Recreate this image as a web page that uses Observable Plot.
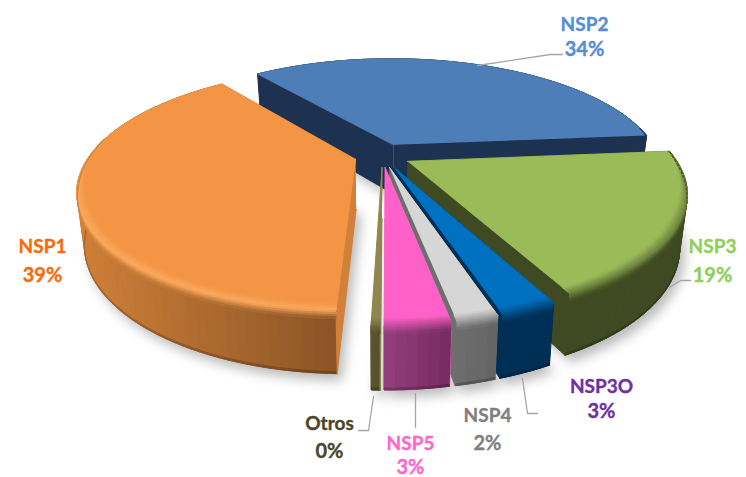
<!DOCTYPE html>
<html><head><meta charset="utf-8">
<style>html,body{margin:0;padding:0;background:#fff}svg{display:block}</style>
<script src="https://cdn.jsdelivr.net/npm/d3@7"></script>
<script src="https://cdn.jsdelivr.net/npm/@observablehq/plot@0.6"></script>
</head><body><div id="chart"></div>
<script>
const names   = ["NSP1","NSP2","NSP3","NSP3O","NSP4","NSP5","Otros"];
const percent = [39,34,19,3,2,3,0];
const shares  = [39,34.1,19.05,2.6,1.9,2.95,0.4];

const topColors  = ["#f39545","#4d7eb8","#9bbb59","#0070c0","#d6d6d6","#ff61c9","#8f8750"];
const rimColors  = ["#fbaa5e",null,null,null,null,null,null];
const sideFrom   = ["#d08038","#1d3150","#3f4a22","#002f55","#6e6e6e","#93407e","#5b552f"];
const sideTo     = ["#8a5426","#1d3150","#3f4a22","#002f55","#646464","#762a60","#55502c"];
const faceColors = ["#d08038","#1d3150","#3f4a22","#002f55","#6e6e6e","#ff61c9","#8f8750"];
const textColors = ["#fa6a0a","#558ed5","#8ed05a","#7030a0","#7f7f7f","#ff66cc","#494529"];
const paintOrder = ["NSP2","NSP1","NSP3","NSP3O","NSP4","NSP5","Otros"];

// camera of the 3-D pie
const cx=382, cy=155, R=266, Rk=112, P=0.246, H=50, shrink=0.025, explode=0.106;
const startAngle = 181.7*Math.PI/180;

const project=(u,v,t=0)=>{const s=1/(1-P*v),b=1-shrink*t;return {x:cx+R*u*s*b,y:cy+Rk*v*s*b+H*t*s};};
const arcs=d3.pie().sort(null).startAngle(startAngle).endAngle(startAngle+2*Math.PI)(shares);

let id=0; const rows=[], shadow=[];
const poly=(pts,c,store=rows)=>{id++;for(const p of pts)store.push({id,x:p.x,y:p.y,c});};
const clamp=x=>Math.max(0,Math.min(1,x));

for(const name of paintOrder){
  const i=names.indexOf(name), a=arcs[i];
  const mid=(a.startAngle+a.endAngle)/2, ox=explode*Math.sin(mid), oy=-explode*Math.cos(mid);
  const n=Math.max(4,Math.ceil((a.endAngle-a.startAngle)*30));
  const angs=d3.range(n+1).map(k=>a.startAngle+(a.endAngle-a.startAngle)*k/n);
  const P3=(ang,r,t)=>project(ox+r*Math.sin(ang),oy-r*Math.cos(ang),t);
  const apex=t=>project(ox,oy,t);

  // ground shadow
  poly([apex(1),...angs.map(g=>P3(g,1,1))].map(p=>({x:p.x+5,y:p.y+7})),"#8c8c8c",shadow);

  // which cut faces look towards the camera
  const camU=-ox, camV=1/P-oy;
  const face=g=>poly([apex(0),P3(g,1,0),P3(g,1,1),apex(1)],faceColors[i]);
  const startSeen=-(Math.cos(a.startAngle)*camU+Math.sin(a.startAngle)*camV)>0;
  const endSeen=(Math.cos(a.endAngle)*camU+Math.sin(a.endAngle)*camV)>0;
  if(!startSeen) face(a.startAngle);
  if(!endSeen) face(a.endAngle);

  // outer wall, shaded column by column
  const xs=angs.map(g=>P3(g,1,.5).x), x0=d3.min(xs), x1=d3.max(xs);
  const shade=x=>d3.interpolateRgb(sideFrom[i],sideTo[i])(x1>x0?(x-x0)/(x1-x0):0);
  poly([...angs.map(g=>P3(g,1,0)),...angs.slice().reverse().map(g=>P3(g,1,1))],shade((x0+x1)/2));
  for(let k=0;k<n;k++){
    const g0=angs[k],g1=angs[k+1],col=shade((P3(g0,1,.5).x+P3(g1,1,.5).x)/2);
    poly([P3(g0,1,0),P3(g1,1,0),P3(g1,1,.97),P3(g0,1,.97)],col);
    poly([P3(g0,1,.97),P3(g1,1,.97),P3(g1,1,1),P3(g0,1,1)],d3.interpolateRgb(col,"#000")(.2));
  }
  if(startSeen) face(a.startAngle);
  if(endSeen) face(a.endAngle);

  // top face
  poly([apex(0),...angs.map(g=>P3(g,1,0))],topColors[i]);

  // rounded edge between top face and wall; fades out towards the back
  const rim=rimColors[i], steps=8;
  const weight=g=>clamp((-Math.cos(g)+.15)/.6);
  const edge=(g,s)=>{const w=weight(g);return s<.5?P3(g,1-.035*w*(1-s/.5),0):P3(g,1,.13*w*(s-.5)/.5);};
  for(let k=0;k<n;k++){
    const g0=angs[k],g1=angs[k+1],gm=(g0+g1)/2,col=shade((P3(g0,1,.5).x+P3(g1,1,.5).x)/2);
    if(weight(gm)<=0&&weight(g0)<=0&&weight(g1)<=0) continue;
    for(let j=0;j<steps;j++){
      const s0=j/steps,s1=(j+1)/steps,f=(j+.5)/steps;
      const c=rim
        ?(f<.5?d3.interpolateRgb(topColors[i],rim)(f*2):d3.interpolateRgb(rim,col)((f-.5)*2))
        :d3.interpolateRgb(topColors[i],col)(f);
      poly([edge(g0,s0),edge(g1,s0),edge(g1,s1),edge(g0,s1)],c);
    }
  }
}

// annotation layout (page pixels)
const labelSpots={NSP1:[42,246,275],NSP2:[584,24,49],NSP3:[712,246,275],NSP3O:[601,386,411],NSP4:[487,415,443],NSP5:[410,443,467],Otros:[329,423,451]};
const leaders={NSP2:[[477,65],[550,54],[562,54]],NSP3:[[669,287],[680,280],[690,280]],NSP3O:[[522,378],[527,413],[537,413]],NSP5:[[415,393],[415,427]],Otros:[[373,396],[368,430],[358,430]]};
const leaderRows=Object.entries(leaders).flatMap(([k,pts])=>pts.map(p=>({k,x:p[0],y:p[1]})));
const labelRows=names.map((n,i)=>({t:n,x:labelSpots[n][0],y:labelSpots[n][1],c:textColors[i]}));
const valueRows=names.map((n,i)=>({t:percent[i]+"%",x:labelSpots[n][0],y:labelSpots[n][2],c:textColors[i]}));

const chart=Plot.plot({
  width:746,height:477,margin:0,
  x:{domain:[0,746],range:[0,746],axis:null},
  y:{domain:[0,477],range:[0,477],axis:null},
  color:{type:"identity"},
  style:{background:"#fff"},
  marks:[
    Plot.line(shadow,{x:"x",y:"y",z:"id",fill:"c",stroke:"none",fillOpacity:.6,imageFilter:"blur(6px)"}),
    Plot.line(rows,{x:"x",y:"y",z:"id",fill:"c",stroke:"c",strokeWidth:.9}),
    Plot.line(leaderRows,{x:"x",y:"y",z:"k",stroke:"#a6a6a6",strokeWidth:1.3}),
    Plot.text(labelRows,{x:"x",y:"y",text:"t",fill:"c",stroke:"c",strokeWidth:.35,fontFamily:"Lato",fontWeight:700,fontSize:19,textAnchor:"middle"}),
    Plot.text(valueRows,{x:"x",y:"y",text:"t",fill:"c",stroke:"c",strokeWidth:.35,fontFamily:"Lato",fontWeight:700,fontSize:20,textAnchor:"middle"})
  ]
});
document.getElementById("chart").append(chart);
</script></body></html>
